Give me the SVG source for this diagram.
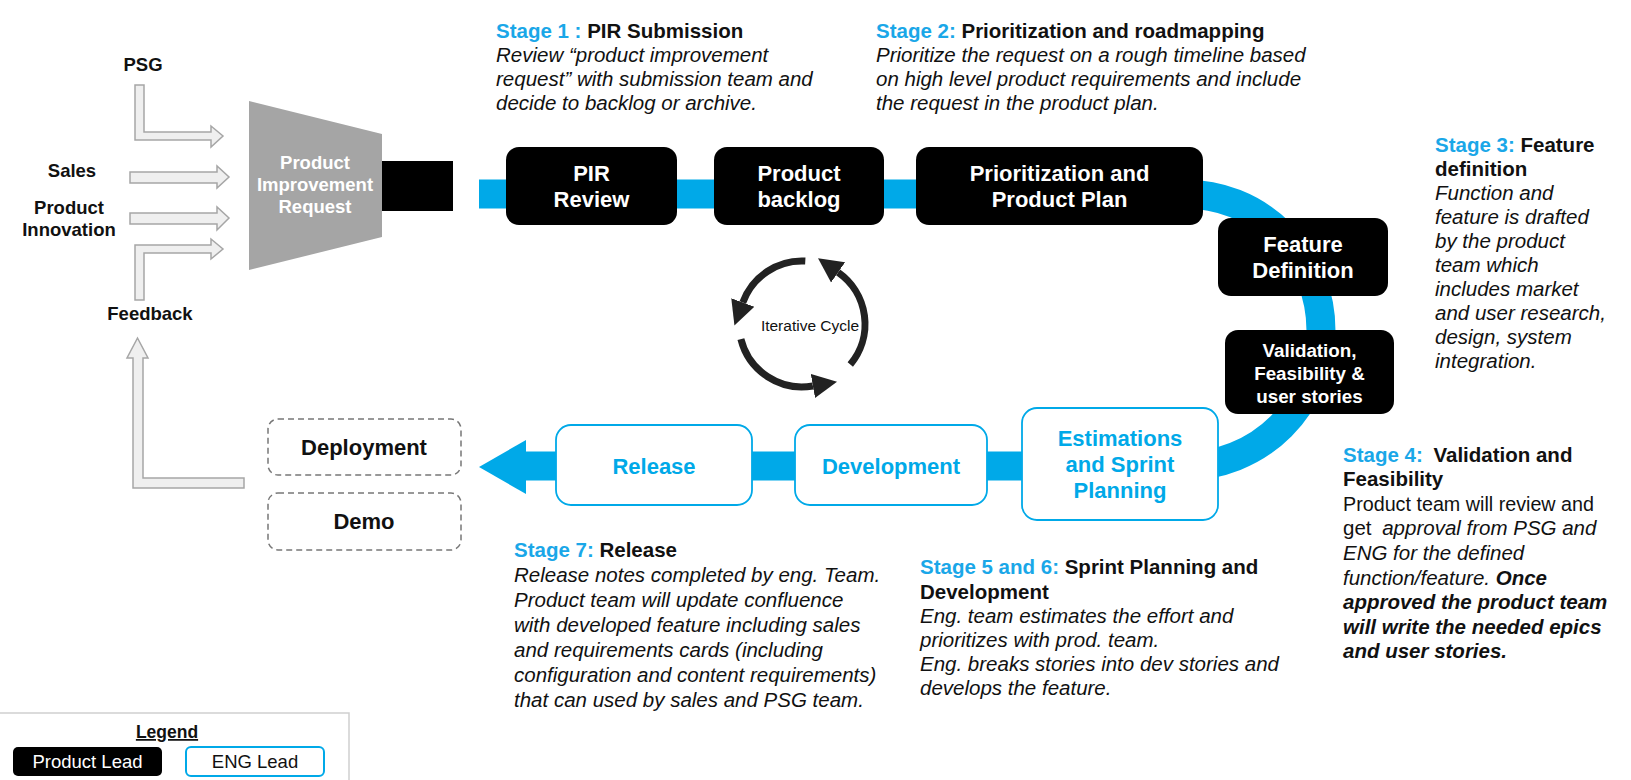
<svg xmlns="http://www.w3.org/2000/svg" width="1631" height="780" viewBox="0 0 1631 780">
<style>
  text { font-family: "Liberation Sans", Arial, sans-serif; }
  .lbl { font-size: 18.5px; font-weight: bold; fill: #111; text-anchor: middle; }
  .box { fill: #000; }
  .eng { fill: #fff; stroke: #00a9e8; stroke-width: 1.8; }
  .bt { font-size: 22px; font-weight: bold; fill: #fff; text-anchor: middle; }
  .et { font-size: 22px; font-weight: bold; fill: #00a9e8; text-anchor: middle; }
  .dash { fill: #fff; stroke: #777; stroke-width: 1.5; stroke-dasharray: 6 4; }
  .dt { font-size: 22px; font-weight: bold; fill: #111; text-anchor: middle; }
  .harrow { fill: #efefef; stroke: #a6a6a6; stroke-width: 1.5; }
  .st { font-size: 20.5px; fill: #111; }
  .sb { font-weight: bold; }
  .blue { fill: #1aa7e8; font-weight: bold; }
  .it { font-style: italic; }
  .cyc { fill: none; stroke: #222; stroke-width: 7; }
</style>
<defs>
  <marker id="ah" viewBox="0 0 10 10" refX="0" refY="5" markerWidth="3.5" markerHeight="3.9" orient="auto">
    <path d="M0,0 L10,5 L0,10 z" fill="#222"/>
  </marker>
</defs>

<g id="connectors">
  <path id="band" d="M479,194 H1185 A136,136 0 0 1 1185,466 H522" fill="none" stroke="#00a9e8" stroke-width="29"/>
  <polygon points="526,440 479,467 526,494" fill="#00a9e8"/>
  <polygon id="arrow-psg" class="harrow" points="135,85 144,85 144,132 211,132 211,126 223,136 211,147 211,140 135,140"/>
  <polygon id="arrow-sales" class="harrow" points="130,172 217,172 217,166 229,177 217,188 217,183 130,183"/>
  <polygon id="arrow-innov" class="harrow" points="130,213 217,213 217,207 229,218 217,230 217,224 130,224"/>
  <polygon id="arrow-feedback" class="harrow" points="135,300 135,245 211,245 211,239 223,249 211,259 211,253 144,253 144,300"/>
  <polygon id="arrow-return" class="harrow" points="137.5,338 148,358 143,358 143,478 244,478 244,488 133,488 133,358 127,358"/>
</g>

<g id="sources">
  <text class="lbl" x="143" y="71">PSG</text>
  <text class="lbl" x="72" y="177">Sales</text>
  <text class="lbl" x="69" y="214">Product</text>
  <text class="lbl" x="69" y="236">Innovation</text>
  <text class="lbl" x="150" y="320">Feedback</text>
</g>

<g id="pir-funnel">
  <polygon points="249,101 382,134 382,237 249,270" fill="#a5a5a5"/>
  <text x="315" y="169" font-size="18.5" font-weight="bold" fill="#fff" text-anchor="middle">Product</text>
  <text x="315" y="191" font-size="18.5" font-weight="bold" fill="#fff" text-anchor="middle">Improvement</text>
  <text x="315" y="213" font-size="18.5" font-weight="bold" fill="#fff" text-anchor="middle">Request</text>
  <rect x="382" y="161" width="71" height="50" fill="#000"/>
</g>

<g id="pir-review">
  <rect class="box" x="506" y="147" width="171" height="78" rx="13"/>
  <text class="bt" x="591.5" y="181">PIR</text>
  <text class="bt" x="591.5" y="207">Review</text>
</g>
<g id="product-backlog">
  <rect class="box" x="714" y="147" width="170" height="78" rx="13"/>
  <text class="bt" x="799" y="181">Product</text>
  <text class="bt" x="799" y="207">backlog</text>
</g>
<g id="prioritization">
  <rect class="box" x="916" y="147" width="287" height="78" rx="13"/>
  <text class="bt" x="1059.5" y="181">Prioritization and</text>
  <text class="bt" x="1059.5" y="207">Product Plan</text>
</g>
<g id="feature-definition">
  <rect class="box" x="1218" y="218" width="170" height="78" rx="13"/>
  <text class="bt" x="1303" y="252">Feature</text>
  <text class="bt" x="1303" y="278">Definition</text>
</g>
<g id="validation">
  <rect class="box" x="1225" y="330" width="169" height="84" rx="13"/>
  <text x="1309.5" y="357" font-size="18.8" font-weight="bold" fill="#fff" text-anchor="middle">Validation,</text>
  <text x="1309.5" y="380" font-size="18.8" font-weight="bold" fill="#fff" text-anchor="middle">Feasibility &amp;</text>
  <text x="1309.5" y="403" font-size="18.8" font-weight="bold" fill="#fff" text-anchor="middle">user stories</text>
</g>
<g id="estimations">
  <rect class="eng" x="1022" y="408" width="196" height="112" rx="15"/>
  <text class="et" x="1120" y="446">Estimations</text>
  <text class="et" x="1120" y="472">and Sprint</text>
  <text class="et" x="1120" y="498">Planning</text>
</g>
<g id="development">
  <rect class="eng" x="795" y="425" width="192" height="80" rx="15"/>
  <text class="et" x="891" y="474">Development</text>
</g>
<g id="release">
  <rect class="eng" x="556" y="425" width="196" height="80" rx="15"/>
  <text class="et" x="654" y="474">Release</text>
</g>
<g id="deployment">
  <rect class="dash" x="268" y="419" width="193" height="56" rx="10"/>
  <text class="dt" x="364" y="455">Deployment</text>
</g>
<g id="demo">
  <rect class="dash" x="268" y="493" width="193" height="57" rx="10"/>
  <text class="dt" x="364" y="529">Demo</text>
</g>

<g id="iterative-cycle">
  <path class="cyc" d="M805.3,261.1 A63,63 0 0 0 742.8,302.5" marker-end="url(#ah)"/>
  <path class="cyc" d="M740.9,339.2 A63,63 0 0 0 812.9,386" marker-end="url(#ah)"/>
  <path class="cyc" d="M850.3,364.5 A63,63 0 0 0 838.1,272.4" marker-end="url(#ah)"/>
  <text x="810" y="331" font-size="15.5" fill="#111" text-anchor="middle">Iterative Cycle</text>
</g>

<g id="stage1" class="st">
  <text x="496" y="38"><tspan class="blue">Stage 1 : </tspan><tspan class="sb">PIR Submission</tspan></text>
  <text class="it" x="496" y="62">Review “product improvement</text>
  <text class="it" x="496" y="86">request” with submission team and</text>
  <text class="it" x="496" y="110">decide to backlog or archive.</text>
</g>
<g id="stage2" class="st">
  <text x="876" y="38"><tspan class="blue">Stage 2: </tspan><tspan class="sb">Prioritization and roadmapping</tspan></text>
  <text class="it" x="876" y="62">Prioritize the request on a rough timeline based</text>
  <text class="it" x="876" y="86">on high level product requirements and include</text>
  <text class="it" x="876" y="110">the request in the product plan.</text>
</g>
<g id="stage3" class="st">
  <text x="1435" y="152"><tspan class="blue">Stage 3: </tspan><tspan class="sb">Feature</tspan></text>
  <text class="sb" x="1435" y="176">definition</text>
  <text class="it" x="1435" y="200">Function and</text>
  <text class="it" x="1435" y="224">feature is drafted</text>
  <text class="it" x="1435" y="248">by the product</text>
  <text class="it" x="1435" y="272">team which</text>
  <text class="it" x="1435" y="296">includes market</text>
  <text class="it" x="1435" y="320">and user research,</text>
  <text class="it" x="1435" y="344">design, system</text>
  <text class="it" x="1435" y="368">integration.</text>
</g>
<g id="stage4" class="st">
  <text x="1343" y="462"><tspan class="blue">Stage 4: </tspan><tspan class="sb" dx="5">Validation and</tspan></text>
  <text class="sb" x="1343" y="486">Feasibility</text>
  <text x="1343" y="511" textLength="251" lengthAdjust="spacingAndGlyphs">Product team will review and</text>
  <text x="1343" y="535">get <tspan class="it" dx="5">approval from PSG and</tspan></text>
  <text class="it" x="1343" y="560">ENG for the defined</text>
  <text class="it" x="1343" y="585">function/feature. <tspan class="sb">Once</tspan></text>
  <text class="it sb" x="1343" y="609">approved the product team</text>
  <text class="it sb" x="1343" y="634">will write the needed epics</text>
  <text class="it sb" x="1343" y="658">and user stories.</text>
</g>
<g id="stage7" class="st">
  <text x="514" y="557"><tspan class="blue">Stage 7: </tspan><tspan class="sb">Release</tspan></text>
  <text class="it" x="514" y="582">Release notes completed by eng. Team.</text>
  <text class="it" x="514" y="607">Product team will update confluence</text>
  <text class="it" x="514" y="632">with developed feature including sales</text>
  <text class="it" x="514" y="657">and requirements cards (including</text>
  <text class="it" x="514" y="682">configuration and content requirements)</text>
  <text class="it" x="514" y="707">that can used by sales and PSG team.</text>
</g>
<g id="stage56" class="st">
  <text x="920" y="574"><tspan class="blue">Stage 5 and 6: </tspan><tspan class="sb">Sprint Planning and</tspan></text>
  <text class="sb" x="920" y="599">Development</text>
  <text class="it" x="920" y="623">Eng. team estimates the effort and</text>
  <text class="it" x="920" y="647">prioritizes with prod. team.</text>
  <text class="it" x="920" y="671">Eng. breaks stories into dev stories and</text>
  <text class="it" x="920" y="695">develops the feature.</text>
</g>

<g id="legend">
  <rect x="-2" y="713" width="351" height="80" fill="none" stroke="#cfcfcf" stroke-width="1.5"/>
  <text x="167" y="738" font-size="17.5" font-weight="bold" fill="#111" text-anchor="middle" text-decoration="underline">Legend</text>
  <g id="legend-product">
    <rect x="13" y="747" width="149" height="29" rx="5" fill="#000"/>
    <text x="87.5" y="768" font-size="18.5" fill="#fff" text-anchor="middle">Product Lead</text>
  </g>
  <g id="legend-eng">
    <rect x="186" y="747" width="138" height="29" rx="5" fill="#fff" stroke="#00a9e8" stroke-width="2"/>
    <text x="255" y="768" font-size="18.5" fill="#111" text-anchor="middle">ENG Lead</text>
  </g>
</g>
</svg>
